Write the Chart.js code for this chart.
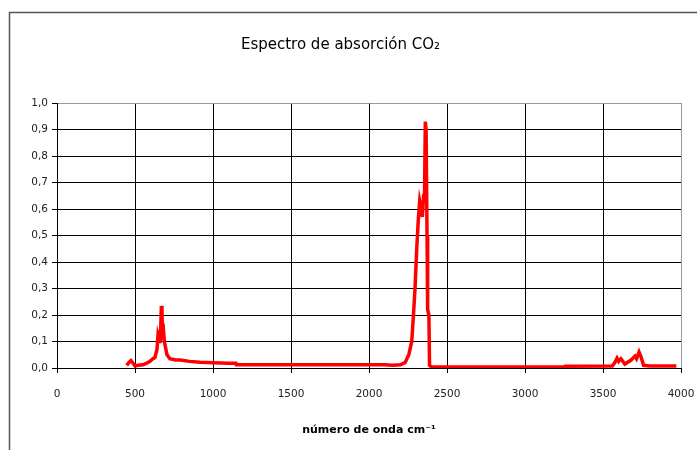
<!DOCTYPE html>
<html lang="es">
<head>
  <meta charset="UTF-8" />
  <title>Espectro de absorción CO2</title>
  <script src="https://cdn.jsdelivr.net/npm/chart.js"></script>
  <style>
    html, body { margin: 0; padding: 0; background: #fff; }
    #wrap { width: 697px; height: 450px; }
  </style>
</head>
<body>
  <div id="wrap"><canvas id="spectrum"></canvas></div>
  <script>
    // wavenumber (cm-1) and absorbance
    const waveNumbers = [447, 460, 474, 488, 500, 520, 551, 575, 596, 615, 628, 641, 647, 655, 660, 665, 669, 673, 677, 683, 688, 695, 705, 724, 760, 790, 850, 917, 1000, 1100, 1147, 1150, 1500, 2000, 2100, 2150, 2200, 2231, 2255, 2274, 2285, 2295, 2306, 2316, 2325, 2335, 2342, 2350, 2356, 2361, 2366, 2372, 2376, 2384, 2388, 2400, 3000, 3250, 3260, 3560, 3575, 3590, 3600, 3615, 3640, 3680, 3705, 3715, 3731, 3745, 3760, 3800, 3970];
    const absorbance = [0.01, 0.02, 0.028, 0.018, 0.008, 0.01, 0.012, 0.018, 0.025, 0.035, 0.04, 0.07, 0.12, 0.1, 0.13, 0.15, 0.234, 0.2, 0.13, 0.14, 0.1, 0.08, 0.05, 0.035, 0.03, 0.03, 0.025, 0.022, 0.02, 0.018, 0.018, 0.012, 0.012, 0.012, 0.012, 0.01, 0.012, 0.02, 0.05, 0.1, 0.2, 0.3, 0.45, 0.56, 0.63, 0.6, 0.57, 0.65, 0.65, 0.93, 0.9, 0.5, 0.22, 0.2, 0.01, 0.004, 0.004, 0.005, 0.007, 0.008, 0.02, 0.037, 0.025, 0.035, 0.015, 0.03, 0.045, 0.035, 0.06, 0.04, 0.01, 0.008, 0.008];

    const xTicks = [0, 500, 1000, 1500, 2000, 2500, 3000, 3500, 4000];
    const yTicks = [0, 0.1, 0.2, 0.3, 0.4, 0.5, 0.6, 0.7, 0.8, 0.9, 1.0];

    const points = waveNumbers.map((x, i) => ({ x: x, y: absorbance[i] }));

    // outer frame around the whole chart
    const framePlugin = {
      id: 'frame',
      beforeDraw(chart) {
        const c = chart.ctx;
        c.save();
        c.fillStyle = '#fff';
        c.fillRect(0, 0, chart.width, chart.height);
        c.strokeStyle = '#555';
        c.lineWidth = 1.5;
        c.strokeRect(9.5, 12.5, 720, 480);
        c.restore();
      }
    };

    new Chart(document.getElementById('spectrum'), {
      type: 'line',
      data: {
        datasets: [{
          data: points,
          borderColor: '#ff0000',
          borderWidth: 3.5,
          pointRadius: 0,
          tension: 0,
          fill: false
        }]
      },
      options: {
        responsive: true,
        maintainAspectRatio: false,
        animation: false,
        layout: { padding: { left: 0, right: 16, top: 0, bottom: 0 } },
        plugins: {
          legend: { display: false },
          tooltip: { enabled: false },
          title: {
            display: true,
            text: 'Espectro de absorción CO₂',
            color: '#000',
            font: { family: 'DejaVu Sans', size: 15, weight: 'normal' },
            padding: { top: 36, bottom: 49 }
          }
        },
        scales: {
          x: {
            type: 'linear',
            min: 0,
            max: 4000,
            afterBuildTicks: s => { s.ticks = xTicks.map(v => ({ value: v })); },
            afterFit: s => { s.height = 82; s.paddingRight = 0; s.paddingLeft = 0; },
            ticks: {
              color: '#222',
              padding: 15,
              maxRotation: 0,
              font: { family: 'DejaVu Sans', size: 10.5 },
              callback: v => String(v)
            },
            grid: {
              color: c => c.tick && c.tick.value === 4000 ? '#999' : '#000',
              tickColor: '#000',
              tickLength: 5
            },
            border: { color: '#000' },
            title: {
              display: true,
              text: 'número de onda cm⁻¹',
              color: '#000',
              font: { family: 'DejaVu Sans', size: 11, weight: 'bold' },
              padding: { top: 3, bottom: 13 }
            }
          },
          y: {
            min: 0,
            max: 1,
            afterBuildTicks: s => { s.ticks = yTicks.map(v => ({ value: v })); },
            afterFit: s => { s.width = 57; },
            ticks: {
              color: '#222',
              padding: 4,
              font: { family: 'DejaVu Sans', size: 10.5 },
              callback: v => v.toFixed(1).replace('.', ',')
            },
            grid: {
              color: c => c.tick && c.tick.value === 1 ? '#999' : '#000',
              tickColor: '#000',
              tickLength: 5
            },
            border: { color: '#000' }
          }
        }
      },
      plugins: [framePlugin]
    });
  </script>
</body>
</html>
